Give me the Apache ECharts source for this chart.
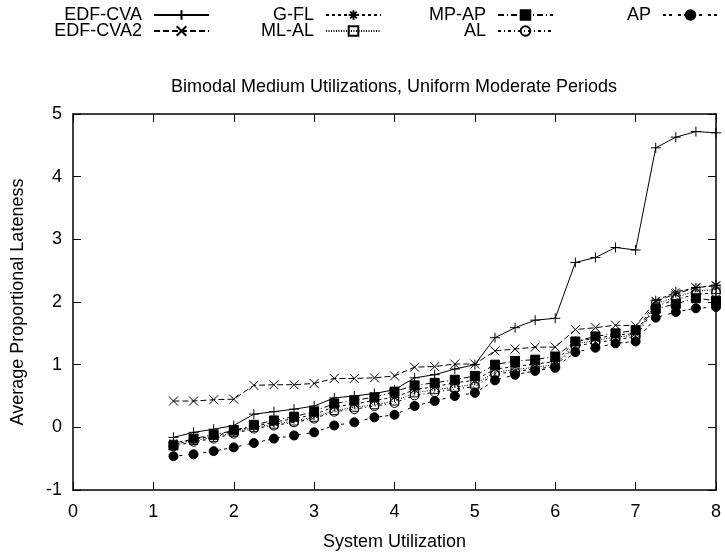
<!DOCTYPE html>
<html>
<head>
<meta charset="utf-8">
<title>Bimodal Medium Utilizations, Uniform Moderate Periods</title>
<script src="https://cdn.jsdelivr.net/npm/echarts@6/dist/echarts.min.js"></script>
<style>
  html, body { margin: 0; padding: 0; background: #fff; }
  #chart { width: 725px; height: 556px; }
</style>
</head>
<body>
<div id="chart"></div>
<script>
// system utilization (x)
const utilization = [1.25, 1.5, 1.75, 2, 2.25, 2.5, 2.75, 3, 3.25, 3.5, 3.75, 4, 4.25, 4.5,
  4.75, 5, 5.25, 5.5, 5.75, 6, 6.25, 6.5, 6.75, 7, 7.25, 7.5, 7.75, 8];

// average proportional lateness
const edfCva = [-0.16, -0.08, -0.03, 0.03, 0.21, 0.25, 0.29, 0.34, 0.47, 0.50, 0.54, 0.60, 0.79, 0.84,
  0.93, 1.00, 1.43, 1.59, 1.71, 1.74, 2.63, 2.71, 2.87, 2.83, 4.46, 4.63, 4.72, 4.70];
const edfCva2 = [0.42, 0.42, 0.44, 0.45, 0.67, 0.68, 0.68, 0.70, 0.78, 0.78, 0.79, 0.82, 0.96, 0.97,
  1.01, 1.01, 1.22, 1.25, 1.28, 1.28, 1.56, 1.59, 1.63, 1.62, 2.01, 2.13, 2.23, 2.26];
const gFl = [-0.25, -0.19, -0.14, -0.06, 0.02, 0.08, 0.14, 0.20, 0.33, 0.37, 0.43, 0.48, 0.60, 0.65,
  0.71, 0.75, 0.93, 0.97, 1.01, 1.05, 1.37, 1.42, 1.47, 1.50, 2.02, 2.16, 2.23, 2.27];
const mlAl = [-0.27, -0.21, -0.16, -0.08, 0.00, 0.05, 0.10, 0.16, 0.27, 0.32, 0.36, 0.42, 0.55, 0.60,
  0.64, 0.69, 0.88, 0.92, 0.96, 1.00, 1.33, 1.39, 1.44, 1.47, 1.97, 2.08, 2.17, 2.20];
const mpAp = [-0.29, -0.18, -0.12, -0.05, 0.04, 0.11, 0.17, 0.25, 0.38, 0.43, 0.48, 0.57, 0.67, 0.71,
  0.76, 0.82, 1.00, 1.06, 1.08, 1.13, 1.37, 1.45, 1.50, 1.55, 1.89, 1.97, 2.06, 2.02];
const al = [-0.30, -0.23, -0.18, -0.10, -0.02, 0.03, 0.08, 0.14, 0.25, 0.29, 0.34, 0.39, 0.51, 0.56,
  0.61, 0.65, 0.85, 0.89, 0.93, 0.97, 1.30, 1.35, 1.40, 1.44, 1.93, 2.04, 2.12, 2.15];
const ap = [-0.46, -0.43, -0.38, -0.32, -0.25, -0.18, -0.13, -0.08, 0.03, 0.08, 0.16, 0.20, 0.34, 0.42,
  0.50, 0.55, 0.75, 0.84, 0.90, 0.95, 1.20, 1.27, 1.34, 1.37, 1.75, 1.84, 1.90, 1.92];

const FONT = 'Liberation Sans';
const FS = 18;

// gnuplot-like point types
const PLUS = 'path://M0,5L10,5M5,0L5,10';
const CROSS = 'path://M0,0L10,10M10,0L0,10';
const STAR = 'path://M0,5L10,5M5,0L5,10M1.5,1.5L8.5,8.5M8.5,1.5L1.5,8.5';

function line(name, data, symbol, size, fill, dash) {
  return {
    name: name,
    type: 'line',
    data: utilization.map((x, i) => [x, data[i]]),
    symbol: symbol,
    symbolSize: size,
    showAllSymbol: true,
    animation: false,
    lineStyle: { color: '#000', width: 1, type: dash },
    itemStyle: { color: fill, borderColor: '#000', borderWidth: 1 },
    emphasis: { disabled: true }
  };
}

const series = [
  line('EDF-CVA', edfCva, PLUS, 10, 'rgba(0,0,0,0)', 'solid'),
  line('EDF-CVA2', edfCva2, CROSS, 9, 'rgba(0,0,0,0)', [6, 3]),
  line('G-FL', gFl, STAR, 10, 'rgba(0,0,0,0)', [3, 3]),
  line('ML-AL', mlAl, 'rect', 8, 'rgba(0,0,0,0)', [1, 1.5]),
  line('MP-AP', mpAp, 'rect', 9, '#000', [6, 3, 1, 3]),
  line('AL', al, 'circle', 9, 'rgba(0,0,0,0)', [3, 3, 1, 3]),
  line('AP', ap, 'circle', 9, '#000', [3, 3, 3, 6])
];

// legend slots: [name, right offset, top]
const legendSlots = [
  ['EDF-CVA', 515, 6], ['EDF-CVA2', 515, 22],
  ['G-FL', 343, 6], ['ML-AL', 343, 22],
  ['MP-AP', 171, 6], ['AL', 171, 22],
  ['AP', 6, 6]
];

const legends = legendSlots.map(s => ({
  data: [s[0]],
  right: s[1],
  top: s[2],
  align: 'right',
  padding: 0,
  itemWidth: 55,
  itemHeight: 12,
  selectedMode: false,
  textStyle: { fontFamily: FONT, fontSize: FS, color: '#000', padding: [0, 7, 0, 0] }
}));

function axisCommon() {
  return {
    axisLine: { show: true, onZero: false, lineStyle: { color: '#000', width: 1.5 } },
    axisTick: { show: true, inside: true, length: 8, lineStyle: { color: '#000', width: 1 } },
    splitLine: { show: false }
  };
}

const chart = echarts.init(document.getElementById('chart'));
chart.setOption({
  backgroundColor: '#fff',
  animation: false,
  title: {
    text: 'Bimodal Medium Utilizations, Uniform Moderate Periods',
    left: 394,
    top: 78,
    textAlign: 'center',
    padding: 0,
    textStyle: { fontFamily: FONT, fontSize: FS, fontWeight: 'normal', color: '#000' }
  },
  legend: legends,
  grid: { left: 73, right: 9, top: 114, bottom: 62 },
  xAxis: [
    Object.assign({
      type: 'value', min: 0, max: 8, interval: 1, position: 'bottom',
      name: 'System Utilization', nameLocation: 'middle', nameGap: 43,
      nameTextStyle: { fontFamily: FONT, fontSize: FS, color: '#000' },
      axisLabel: { margin: 13, fontFamily: FONT, fontSize: FS, color: '#000' }
    }, axisCommon()),
    Object.assign({
      type: 'value', min: 0, max: 8, interval: 1, position: 'top',
      axisLabel: { show: false }
    }, axisCommon())
  ],
  yAxis: [
    Object.assign({
      type: 'value', min: -1, max: 5, interval: 1, position: 'left',
      name: 'Average Proportional Lateness', nameLocation: 'middle', nameGap: 46,
      nameTextStyle: { fontFamily: FONT, fontSize: FS, color: '#000' },
      axisLabel: { margin: 11, fontFamily: FONT, fontSize: FS, color: '#000' }
    }, axisCommon()),
    Object.assign({
      type: 'value', min: -1, max: 5, interval: 1, position: 'right',
      axisLabel: { show: false }
    }, axisCommon())
  ],
  series: series
});
</script>
</body>
</html>
